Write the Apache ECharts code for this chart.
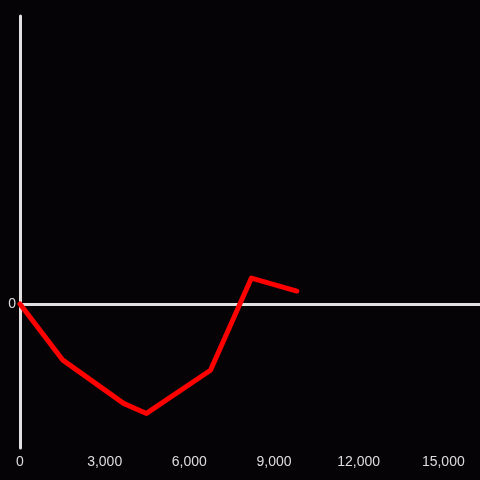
<!DOCTYPE html>
<html>
<head>
<meta charset="utf-8">
<script src="https://cdn.jsdelivr.net/npm/echarts@6/dist/echarts.min.js"></script>
<style>
  html, body { margin: 0; padding: 0; background: #050306; }
  #chart { width: 480px; height: 480px; }
</style>
</head>
<body>
<div id="chart"></div>
<script>
// data
const xValues = [0, 1520, 3670, 4480, 6750, 8200, 9810]
const yValues = [0, -0.39, -0.69, -0.76, -0.46, 0.18, 0.09]
const xTicks = [0, 3000, 6000, 9000, 12000, 15000]

const chart = echarts.init(document.getElementById('chart'))

const axisColor = '#e0e0e0'

const option = {
  backgroundColor: '#050306',
  animation: false,
  grid: { left: 20, right: 0, top: 16, bottom: 32 },
  xAxis: {
    type: 'value',
    min: 0,
    max: 16300,
    interval: 3000,
    axisLine: { show: false, onZero: false },
    axisTick: { show: false },
    splitLine: { show: false },
    axisLabel: {
      color: '#dddddd',
      fontSize: 14,
      fontFamily: 'Liberation Sans',
      margin: 7,
      showMaxLabel: false,
      formatter: v => (xTicks.includes(v) ? v.toLocaleString('en-US') : '')
    }
  },
  yAxis: {
    type: 'value',
    min: -1,
    max: 2,
    interval: 1,
    axisLine: { show: true, lineStyle: { color: axisColor, width: 3 } },
    axisTick: { show: false },
    splitLine: { show: false },
    axisLabel: {
      color: '#dddddd',
      fontSize: 14,
      fontFamily: 'Liberation Sans',
      margin: 4,
      formatter: v => (v === 0 ? '0' : '')
    }
  },
  series: [
    {
      type: 'line',
      data: xValues.map((x, i) => [x, yValues[i]]),
      symbol: 'none',
      lineStyle: { color: '#ff0000', width: 5, cap: 'round', join: 'round' },
      z: 3,
      markLine: {
        silent: true,
        symbol: 'none',
        label: { show: false },
        lineStyle: { color: axisColor, width: 3, type: 'solid' },
        data: [{ yAxis: 0 }],
        z: 1
      }
    }
  ]
}

chart.setOption(option)
</script>
</body>
</html>
